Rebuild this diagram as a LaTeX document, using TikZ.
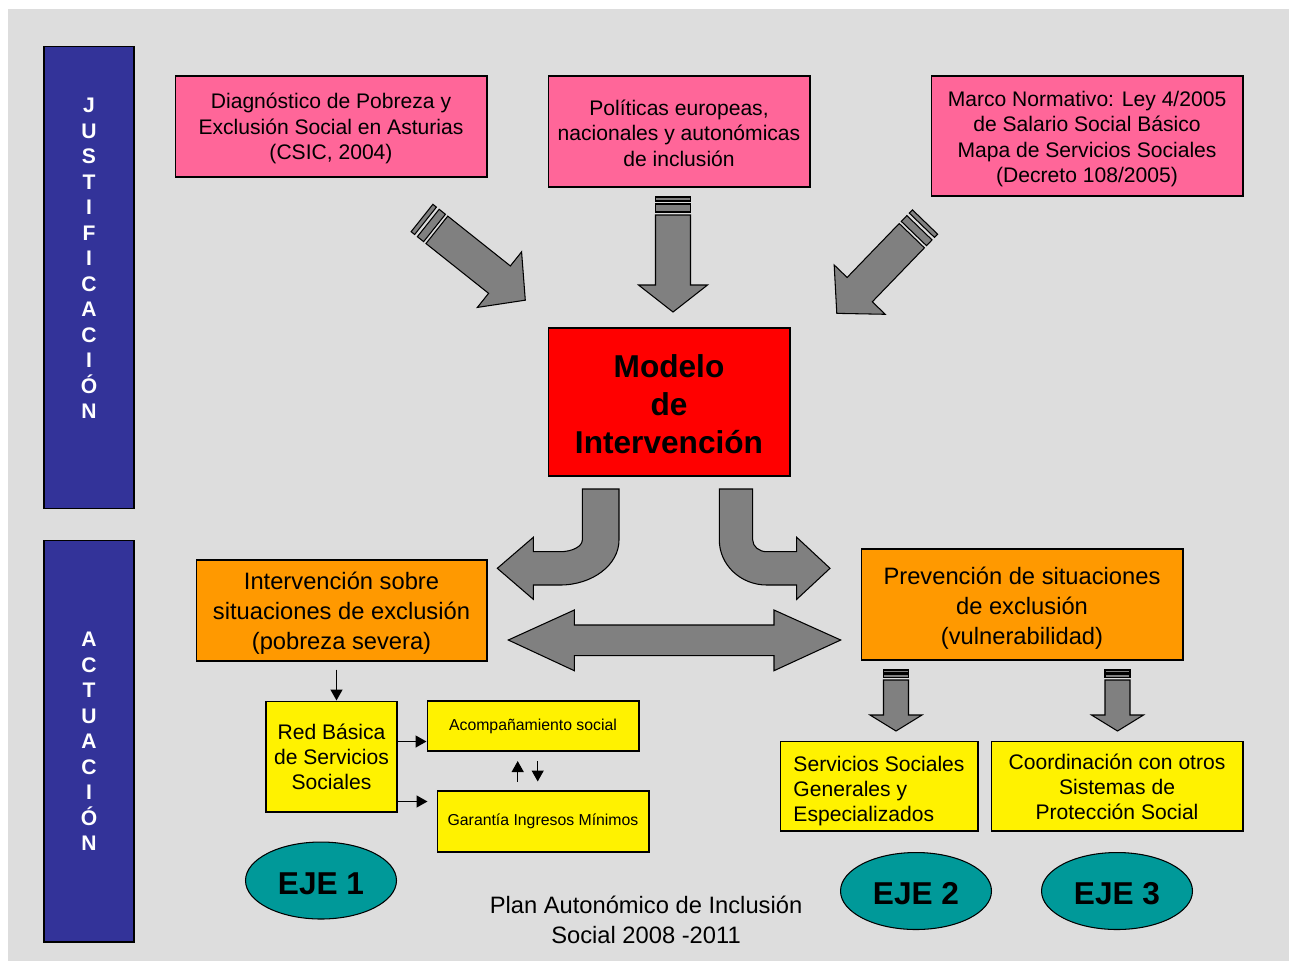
\documentclass[tikz,border=0pt]{standalone}
\usepackage{fontspec}
\setmainfont{Liberation Sans}
\usetikzlibrary{shapes.geometric, arrows.meta}

\definecolor{bggray}{HTML}{DDDDDD}
\definecolor{barblue}{HTML}{333399}
\definecolor{boxpink}{HTML}{FF6699}
\definecolor{boxorange}{HTML}{FF9900}
\definecolor{ejeteal}{HTML}{009999}
\definecolor{arrowgray}{HTML}{808080}

\begin{document}
\begin{tikzpicture}[x=0.02cm, y=-0.02cm,
  box/.style={draw, line width=0.6pt, inner sep=0pt, align=center},
  pinkbox/.style={box, fill=boxpink, font=\fontsize{12}{14.5}\selectfont},
  orangebox/.style={box, fill=boxorange, font=\fontsize{13.5}{17}\selectfont},
  yellowbox/.style={box, fill=yellow, font=\fontsize{12}{14.3}\selectfont},
  smallbox/.style={box, fill=yellow, font=\fontsize{9}{11}\selectfont},
  navybar/.style={draw, line width=0.6pt, fill=barblue, minimum width=1.8cm, inner sep=0pt},
  barletters/.style={text=white, align=center, font=\fontsize{12}{14.5}\bfseries\selectfont},
  ejeoval/.style={ellipse, draw, line width=0.6pt, fill=ejeteal, minimum width=3.02cm, minimum height=1.54cm, inner sep=0pt, font=\fontsize{18}{21}\bfseries\selectfont},
  blockarrow/.style={fill=arrowgray, draw=black, line width=0.6pt},
  conn/.style={line width=0.8pt, -{Triangle[length=2.2mm, width=2.4mm]}}]

\useasboundingbox (0,0) rectangle (1293,961);
\fill[bggray] (8,9) rectangle (1289,961);

% side bars
\node[navybar, minimum height=9.26cm] (justbar) at (89,277.5) {};
\node[barletters] (justtxt) at (89,258.5) {J\\U\\S\\T\\I\\F\\I\\C\\A\\C\\I\\Ó\\N};
\node[navybar, minimum height=8.04cm] (actbar) at (89,741) {};
\node[barletters] (acttxt) at (89,741.5) {A\\C\\T\\U\\A\\C\\I\\Ó\\N};

% justification boxes
\node[pinkbox, minimum width=6.24cm, minimum height=2.02cm] (diag) at (331,126.5)
  {\rule{0pt}{11.2pt}Diagnóstico de Pobreza y\\Exclusión Social en Asturias\\(CSIC, 2004)};
\node[pinkbox, minimum width=5.24cm, minimum height=2.22cm] (polit) at (679,131.5)
  {\rule{0pt}{10.6pt}Políticas europeas,\\nacionales y autonómicas\\de inclusión};
\node[pinkbox, minimum width=6.24cm, minimum height=2.4cm] (marco) at (1087,136)
  {\rule{0pt}{12pt}Marco Normativo: Ley 4/2005\\de Salario Social Básico\\Mapa de Servicios Sociales\\(Decreto 108/2005)};

\node[box, fill=red, minimum width=4.84cm, minimum height=2.96cm,
  font=\fontsize{18}{21.5}\bfseries\selectfont] (modelo) at (669,402)
  {\rule{0pt}{15.3pt}Modelo\\de\\Intervención};

% striped arrows
\begin{scope}[shift={(422,218)}, rotate=-38.5]
  \filldraw[blockarrow] (0,-17.5) rectangle (4.5,17.5);
  \filldraw[blockarrow] (8,-17.5) rectangle (16,17.5);
  \filldraw[blockarrow] (19,-17.5) -- (99,-17.5) -- (99,-35.5) -- (132,0) -- (99,35.5) -- (99,17.5) -- (19,17.5) -- cycle;
\end{scope}
\begin{scope}[shift={(673,197)}, rotate=-90]
  \filldraw[blockarrow] (0,-17.5) rectangle (4,17.5);
  \filldraw[blockarrow] (7,-17.5) rectangle (15,17.5);
  \filldraw[blockarrow] (18,-17.5) -- (88,-17.5) -- (88,-34.5) -- (115,0) -- (88,34.5) -- (88,17.5) -- (18,17.5) -- cycle;
\end{scope}
\begin{scope}[shift={(925,222)}, rotate=-134]
  \filldraw[blockarrow] (0,-17.5) rectangle (4.5,17.5);
  \filldraw[blockarrow] (8,-17.5) rectangle (16,17.5);
  \filldraw[blockarrow] (19,-17.5) -- (94,-17.5) -- (94,-35.5) -- (127,0) -- (94,35.5) -- (94,17.5) -- (19,17.5) -- cycle;
\end{scope}

% curved and double arrows
\filldraw[blockarrow] (582.3,489) -- (619,489) -- (619,540)
  .. controls (619,564.8) and (592.5,585) .. (560,585) -- (533.3,585) -- (533.3,599.3)
  -- (497.3,568.3) -- (533.3,537.3) -- (533.3,551.7) -- (560,551.7)
  .. controls (572.3,551.7) and (582.3,546.4) .. (582.3,540) -- cycle;
\filldraw[blockarrow] (719.3,489) -- (752.7,489) -- (752.7,540)
  .. controls (752.7,546.4) and (759,551.7) .. (766.7,551.7) -- (796.7,551.7) -- (796.7,537.3)
  -- (830,568.3) -- (796.7,599.3) -- (796.7,585) -- (766.7,585)
  .. controls (740.6,585) and (719.3,564.8) .. (719.3,540) -- cycle;
\filldraw[blockarrow] (508.3,640) -- (574.3,610) -- (574.3,625) -- (774,625) -- (774,610)
  -- (840.7,640) -- (774,670.7) -- (774,655.7) -- (574.3,655.7) -- (574.3,670.7) -- cycle;

% action boxes
\node[orangebox, minimum width=5.82cm, minimum height=2.02cm] (interv) at (341.5,610.5)
  {\rule{0pt}{13.4pt}Intervención sobre\\situaciones de exclusión\\(pobreza severa)};
\node[orangebox, minimum width=6.44cm, minimum height=2.22cm] (prev) at (1022,604.5)
  {\rule{0pt}{14pt}Prevención de situaciones\\de exclusión\\(vulnerabilidad)};

\node[yellowbox, minimum width=2.62cm, minimum height=2.22cm] (rbs) at (331.5,756.5)
  {Red Básica\\de Servicios\\Sociales};
\node[smallbox, minimum width=4.24cm, minimum height=1cm] (acomp) at (533,726) {Acompañamiento social};
\node[smallbox, minimum width=4.24cm, minimum height=1.22cm] (garant) at (543,821.5) {Garantía Ingresos Mínimos};
\node[yellowbox, align=left, minimum width=3.96cm, minimum height=1.8cm] (ssg) at (879,786)
  {\rule{0pt}{14.5pt}Servicios Sociales\\Generales y\\Especializados};
\node[yellowbox, minimum width=5.04cm, minimum height=1.8cm] (coord) at (1117,786)
  {\rule{0pt}{10pt}Coordinación con otros\\Sistemas de\\Protección Social};

\foreach \ax in {896,1117.5}{
  \begin{scope}[shift={(\ax,670)}, rotate=-90]
    \filldraw[blockarrow] (0,-12.5) rectangle (3,12.5);
    \filldraw[blockarrow] (4.5,-12.5) rectangle (7.5,12.5);
    \filldraw[blockarrow] (10,-12.5) -- (45,-12.5) -- (45,-26) -- (61,0) -- (45,26) -- (45,12.5) -- (10,12.5) -- cycle;
  \end{scope}
}

% small connectors
\coordinate (rd) at ([xshift=0.1cm]rbs.north);
\draw[conn] ([yshift=-0.16cm]interv.south -| rd) -- (rd);
\coordinate (ra) at ([yshift=0.3cm]rbs.east);
\coordinate (rb) at ([yshift=-0.9cm]rbs.east);
\draw[conn] (ra) -- (ra -| acomp.west);
\draw[conn, shorten >=0.18cm] (rb) -- (rb -| garant.west);
\coordinate (up) at (517.7,771);
\coordinate (dn) at (537.7,771);
\draw[conn, shorten <=0.18cm, shorten >=0.19cm] (up |- garant.north) -- (up |- acomp.south);
\draw[conn, shorten <=0.19cm, shorten >=0.18cm] (dn |- acomp.south) -- (dn |- garant.north);

% axes
\node[ejeoval] (eje1) at (321,880.5) {\rule{0pt}{15.7pt}EJE 1};
\node[ejeoval] (eje2) at (916,891) {\rule{0pt}{15.7pt}EJE 2};
\node[ejeoval] (eje3) at (1117,891) {\rule{0pt}{15.7pt}EJE 3};

\node[align=center, font=\fontsize{13.5}{17}\selectfont] (plan) at (646,920)
  {Plan Autonómico de Inclusión\\Social 2008 -2011};
\end{tikzpicture}
\end{document}
